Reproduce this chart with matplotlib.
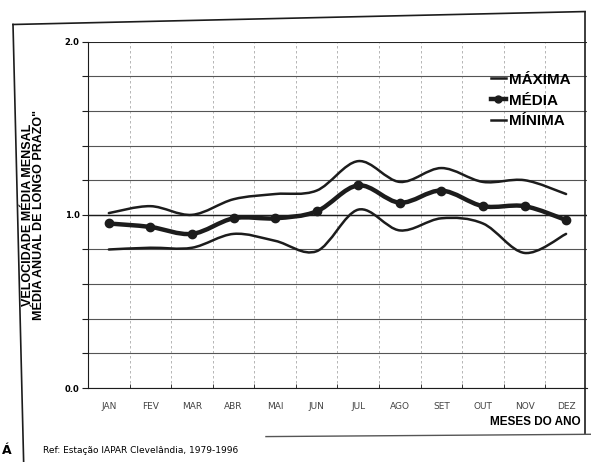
import numpy as np
import matplotlib.pyplot as plt
from matplotlib.path import Path
from matplotlib.patches import PathPatch
from matplotlib.lines import Line2D

months = ["JAN", "FEV", "MAR", "ABR", "MAI", "JUN", "JUL", "AGO", "SET", "OUT", "NOV", "DEZ"]
maxima = [1.01, 1.05, 1.00, 1.09, 1.12, 1.14, 1.31, 1.19, 1.27, 1.19, 1.20, 1.12]
media = [0.95, 0.93, 0.89, 0.98, 0.98, 1.02, 1.17, 1.07, 1.14, 1.05, 1.05, 0.97]
minima = [0.80, 0.81, 0.81, 0.89, 0.85, 0.79, 1.03, 0.91, 0.98, 0.95, 0.78, 0.89]

INK = "#1c1c1c"


def smooth_path(xs, ys):
    # Catmull-Rom curve through the points, written as cubic Bezier segments
    xs = np.asarray(xs, float)
    ys = np.asarray(ys, float)
    pts = np.column_stack([xs, ys])
    verts = [pts[0]]
    codes = [Path.MOVETO]
    n = len(pts)
    for i in range(n - 1):
        p0 = pts[i - 1] if i > 0 else pts[i]
        p1 = pts[i]
        p2 = pts[i + 1]
        p3 = pts[i + 2] if i + 2 < n else pts[i + 1]
        c1 = p1 + (p2 - p0) / 6
        c2 = p2 - (p3 - p1) / 6
        verts += [c1, c2, p2]
        codes += [Path.CURVE4] * 3
    return Path(verts, codes)


fig = plt.figure(figsize=(5.91, 4.62), dpi=100)
ax = fig.add_axes([0.149, 0.160, 0.844, 0.750])

x = np.arange(len(months))
for vals, lw in [(maxima, 1.8), (minima, 1.8), (media, 3.2)]:
    ax.add_patch(PathPatch(smooth_path(x, vals), facecolor="none",
                           edgecolor=INK, lw=lw, capstyle="round"))
ax.plot(x, media, "o", color=INK, ms=6, zorder=3)

ax.set_xlim(-0.5, 11.5)
ax.set_ylim(0, 2.0)
ax.set_xticks(x)
ax.set_xticklabels(months, fontsize=6.5, color="#444444", family="DejaVu Sans")
ax.set_xticks(np.arange(0.5, 11, 1), minor=True)
ax.tick_params(axis="x", which="major", length=0, pad=10)
ax.tick_params(axis="x", which="minor", length=3, direction="in", color=INK)
ax.set_yticks(np.arange(0, 2.01, 0.2))
ax.set_yticklabels(["0.0" if v == 0 else "1.0" if v == 5 else "2.0" if v == 10 else ""
                    for v in range(11)], fontsize=6, fontweight="bold")
ax.tick_params(axis="y", length=4, color=INK, pad=2)

ax.grid(axis="y", color="#555555", lw=0.8)
ax.grid(axis="x", which="minor", color="#aaaaaa", lw=0.6, ls=(0, (3, 3)))
ax.axhline(1.0, color=INK, lw=1.0)
ax.axhline(2.0, color=INK, lw=1.2)
ax.set_axisbelow(True)
for s in ["top", "right"]:
    ax.spines[s].set_visible(False)
ax.spines["left"].set_color(INK)
ax.spines["bottom"].set_color(INK)

ax.set_ylabel("VELOCIDADE MÉDIA MENSAL\nMÉDIA ANUAL DE LONGO PRAZO\"",
              fontsize=9, fontweight="bold", family="Liberation Sans",
              linespacing=0.95, labelpad=14)

handles = [Line2D([], [], color=INK, lw=1.8),
           Line2D([], [], color=INK, lw=3.2, marker="o", ms=5),
           Line2D([], [], color=INK, lw=1.8)]
leg = ax.legend(handles, ["MÁXIMA", "MÉDIA", "MÍNIMA"], loc="upper right",
                bbox_to_anchor=(0.995, 0.95), frameon=False, handlelength=1.0,
                handletextpad=0.2, labelspacing=0.45,
                prop={"family": "Liberation Sans", "weight": "bold", "size": 11})

fig.text(0.982, 0.087, "MESES DO ANO", ha="right", va="center",
         fontsize=8.5, fontweight="bold", family="Liberation Sans")
fig.text(0.072, 0.024, "Ref: Estação IAPAR Clevelândia, 1979-1996", ha="left",
         va="center", fontsize=6.5, family="DejaVu Sans")
fig.text(0.004, 0.024, "Á", ha="left", va="center", fontsize=9, fontweight="bold")

# outer frame of the figure panel
frame = dict(color=INK, lw=1.2, transform=fig.transFigure)
fig.add_artist(Line2D([0.022, 0.99], [0.947, 0.975], **frame))
fig.add_artist(Line2D([0.022, 0.04], [0.947, 0.0], **frame))
fig.add_artist(Line2D([0.99, 0.99], [0.975, 0.06], **frame))
fig.add_artist(Line2D([0.45, 1.0], [0.055, 0.06], color="#555555", lw=1.0,
                      transform=fig.transFigure))

fig.savefig("out.png", dpi=100)
